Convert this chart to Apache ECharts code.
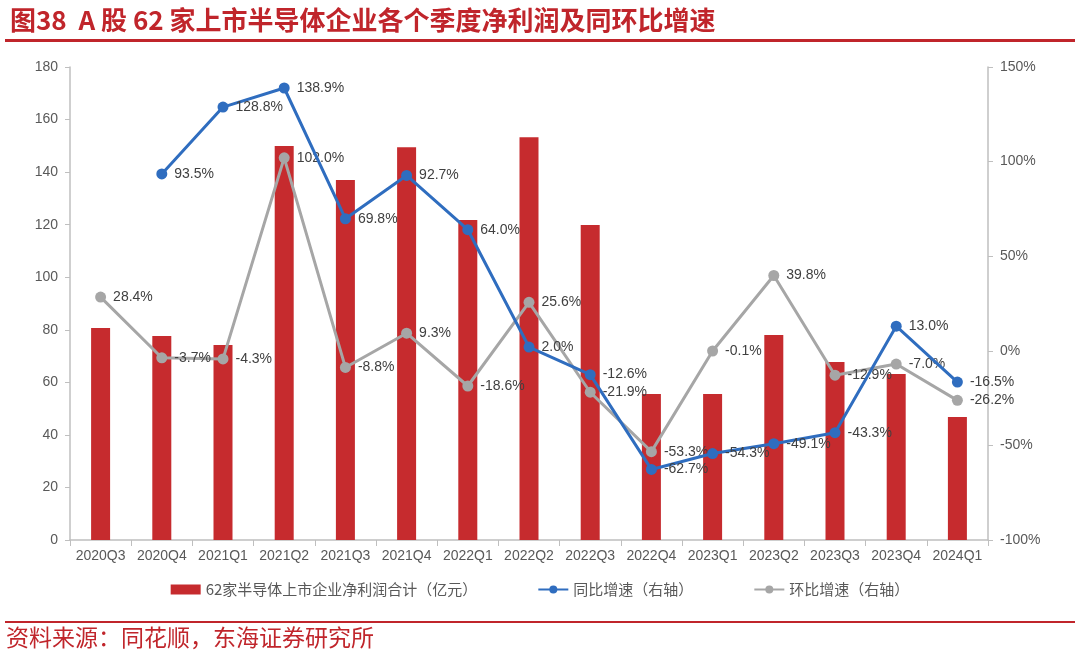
<!DOCTYPE html>
<html><head><meta charset="utf-8">
<script src="https://cdn.jsdelivr.net/npm/echarts@6/dist/echarts.min.js"></script>
<style>html,body{margin:0;padding:0;background:#fff}#c{width:1080px;height:660px}</style>
</head><body><div id="c"></div>
<script>
const categories = ['2020Q3','2020Q4','2021Q1','2021Q2','2021Q3','2021Q4','2022Q1','2022Q2','2022Q3','2022Q4','2023Q1','2023Q2','2023Q3','2023Q4','2024Q1'];
const netProfit = [80.7, 77.6, 74.2, 149.9, 137.0, 149.5, 121.8, 153.3, 119.9, 55.6, 55.6, 78.0, 67.7, 63.2, 46.8];
const yoyGrowth = [null, 93.5, 128.8, 138.9, 69.8, 92.7, 64.0, 2.0, -12.6, -62.7, -54.3, -49.1, -43.3, 13.0, -16.5];
const qoqGrowth = [28.4, -3.7, -4.3, 102.0, -8.8, 9.3, -18.6, 25.6, -21.9, -53.3, -0.1, 39.8, -12.9, -7.0, -26.2];
const seriesNames = ['62家半导体上市企业净利润合计（亿元）', '同比增速（右轴）', '环比增速（右轴）'];
const titleText = '图38  A 股 62 家上市半导体企业各个季度净利润及同环比增速';
const sourceText = '资料来源：同花顺，东海证券研究所';

const RED = '#C62B2E', BLUE = '#2F6DBF', GRAY = '#A6A6A6', DARKRED = '#C0252B';
const numFont = '"Liberation Sans", Arial, "Noto Sans CJK SC", sans-serif';
const cjkFont = '"Noto Sans CJK SC", "Liberation Sans", sans-serif';
const chart = echarts.init(document.getElementById('c'), null, {renderer: 'canvas'});
const lbl = {
  show: true, position: 'right', distance: 7, color: '#404040', fontSize: 14, fontFamily: numFont,
  formatter: p => p.value == null ? '' : p.value.toFixed(1) + '%'
};
chart.setOption({
  animation: false,
  backgroundColor: '#fff',
  title: {
    text: titleText, left: 5, top: 2,
    textStyle: {color: DARKRED, fontSize: 26, fontWeight: 'bold', fontFamily: cjkFont}
  },
  graphic: [
    {type: 'rect', shape: {x: 5, y: 39, width: 1070, height: 3}, style: {fill: DARKRED}},
    {type: 'rect', shape: {x: 5, y: 621, width: 1070, height: 2}, style: {fill: DARKRED}},
    {type: 'text', left: 6, top: 626, style: {text: sourceText, fill: DARKRED, fontSize: 23, fontFamily: cjkFont}}
  ],
  legend: {
    bottom: 58, left: 'center', itemGap: 60,
    textStyle: {color: '#595959', fontSize: 15, fontFamily: cjkFont},
    data: [
      {name: seriesNames[0], icon: 'rect', itemWidth: 22, itemHeight: 8},
      {name: seriesNames[1]},
      {name: seriesNames[2]}
    ],
    itemWidth: 30, itemHeight: 10
  },
  grid: {left: 70, right: 92, top: 67, bottom: 120},
  xAxis: {
    type: 'category', data: categories,
    axisLine: {lineStyle: {color: '#BFBFBF', width: 1.5}},
    axisTick: {show: true, alignWithLabel: false, length: 6, lineStyle: {color: '#BFBFBF'}},
    axisLabel: {color: '#595959', fontSize: 14, fontFamily: numFont, margin: 9, interval: 0}
  },
  yAxis: [
    {
      type: 'value', min: 0, max: 180, interval: 20, position: 'left',
      axisLine: {show: true, lineStyle: {color: '#BFBFBF', width: 1.5}},
      axisTick: {show: true, length: 5, lineStyle: {color: '#BFBFBF'}},
      splitLine: {show: false},
      axisLabel: {color: '#595959', fontSize: 14, fontFamily: numFont, margin: 12}
    },
    {
      type: 'value', min: -100, max: 150, interval: 50, position: 'right',
      axisLine: {show: true, lineStyle: {color: '#BFBFBF', width: 1.5}},
      axisTick: {show: true, length: 5, lineStyle: {color: '#BFBFBF'}},
      splitLine: {show: false},
      axisLabel: {color: '#595959', fontSize: 14, fontFamily: numFont, margin: 12, formatter: '{value}%'}
    }
  ],
  series: [
    {
      name: seriesNames[0], type: 'bar', data: netProfit, barWidth: 19,
      itemStyle: {color: RED}
    },
    {
      name: seriesNames[1], type: 'line', yAxisIndex: 1, data: yoyGrowth,
      symbol: 'circle', symbolSize: 11, connectNulls: false,
      lineStyle: {color: BLUE, width: 3}, itemStyle: {color: BLUE},
      label: lbl, z: 4
    },
    {
      name: seriesNames[2], type: 'line', yAxisIndex: 1, data: qoqGrowth,
      symbol: 'circle', symbolSize: 11,
      lineStyle: {color: GRAY, width: 3}, itemStyle: {color: GRAY},
      label: lbl, z: 3
    }
  ]
});
</script></body></html>
